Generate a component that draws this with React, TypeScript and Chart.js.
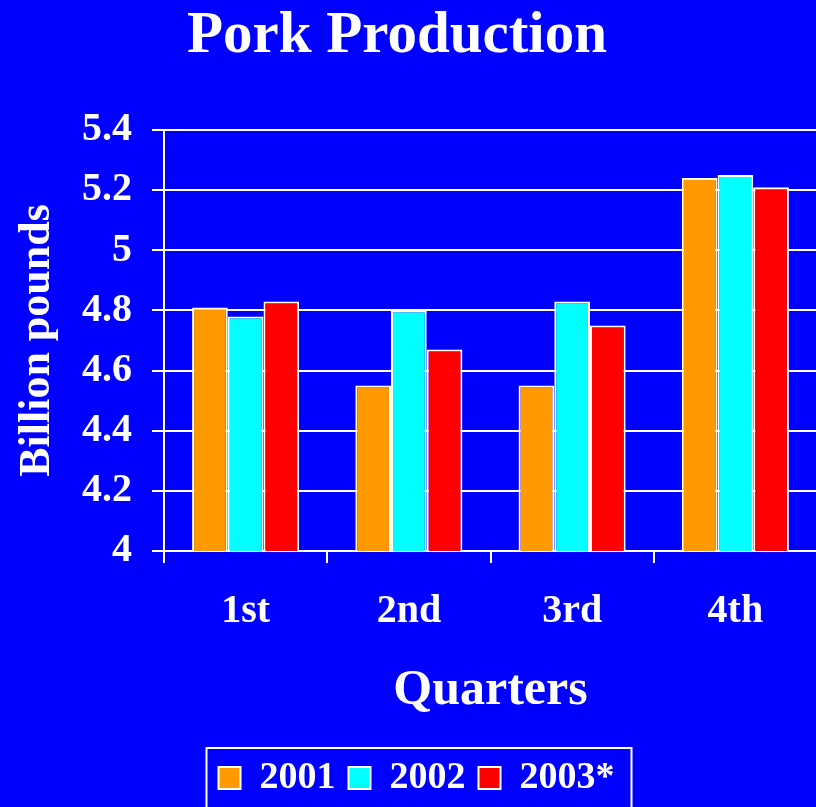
import React, { useEffect, useRef } from 'react';
import { Chart, registerables } from 'chart.js';

Chart.register(...registerables);

// ---- data ----
const categories = ['1st', '2nd', '3rd', '4th'];
const seriesNames = ['2001', '2002', '2003*'];
const values2001 = [4.81, 4.55, 4.55, 5.24];
const values2002 = [4.78, 4.8, 4.83, 5.25];
const values2003 = [4.83, 4.67, 4.75, 5.21];
const seriesColors = ['#FF9900', '#00FFFF', '#FF0000'];
const yMin = 4;
const yMax = 5.4;
const yStep = 0.2;
const chartTitle = 'Pork Production';
const xTitle = 'Quarters';
const yTitle = 'Billion pounds';

const BG = '#0000FF';
const FONT = '"Liberation Serif", "Times New Roman", Times, serif';

const bgPlugin = {
  id: 'bgFill',
  beforeDraw(chart: any) {
    const c = chart.ctx;
    c.save();
    c.fillStyle = BG;
    c.fillRect(0, 0, chart.width, chart.height);
    c.restore();
  },
};

const titlePlugin = {
  id: 'manualTitle',
  afterDraw(chart: any) {
    const c = chart.ctx;
    c.save();
    c.font = `bold 59px ${FONT}`;
    c.fillStyle = '#FFFFFF';
    c.textAlign = 'center';
    c.textBaseline = 'alphabetic';
    c.fillText(chartTitle, 397, 52);
    c.restore();
  },
};

const legendBorderPlugin = {
  id: 'legendBorder',
  afterDraw(chart: any) {
    const hb = chart.legend && chart.legend.legendHitBoxes;
    if (!hb || !hb.length) return;
    const first = hb[0];
    const last = hb[hb.length - 1];
    const cy = first.top + first.height / 2;
    const left = first.left - 12;
    const right = last.left + last.width + 17;
    const top = cy - 30;
    const c = chart.ctx;
    c.save();
    c.strokeStyle = '#FFFFFF';
    c.lineWidth = 2;
    c.strokeRect(left, top, right - left, chart.height + 20 - top);
    c.restore();
  },
};

export default function App() {
  const ref = useRef<HTMLCanvasElement | null>(null);

  useEffect(() => {
    if (!ref.current) return;
    const tickFont = { family: FONT, size: 40, weight: 'bold' as const };
    const chart = new Chart(ref.current, {
      type: 'bar',
      data: {
        labels: categories,
        datasets: [values2001, values2002, values2003].map((vals, i) => ({
          label: seriesNames[i],
          data: vals,
          backgroundColor: seriesColors[i],
          borderColor: '#FFFFFF',
          borderWidth: 2,
          categoryPercentage: 0.656,
          barPercentage: 1.0,
        })),
      },
      options: {
        responsive: false,
        animation: false,
        devicePixelRatio: 1,
        layout: { padding: { left: 16, right: 13, top: 130, bottom: 0 } },
        plugins: {
          title: { display: false },
          tooltip: { enabled: false },
          legend: {
            display: true,
            position: 'bottom',
            labels: {
              color: '#FFFFFF',
              font: { family: FONT, size: 38, weight: 'bold' },
              boxWidth: 22,
              boxHeight: 22,
              padding: 13,
            },
          },
        },
        scales: {
          x: {
            grid: {
              display: true,
              drawOnChartArea: false,
              color: '#FFFFFF',
              lineWidth: 2,
              tickLength: 12,
              offset: true,
            },
            border: { color: '#FFFFFF', width: 2 },
            ticks: { color: '#FFFFFF', font: tickFont, padding: 25 },
            title: {
              display: true,
              text: xTitle,
              color: '#FFFFFF',
              font: { family: FONT, size: 50, weight: 'bold', lineHeight: 1.2 },
              padding: { top: 0, bottom: 25 },
            },
          },
          y: {
            min: yMin,
            max: yMax,
            grid: { color: '#FFFFFF', lineWidth: 2, tickLength: 12 },
            border: { color: '#FFFFFF', width: 2 },
            ticks: {
              stepSize: yStep,
              color: '#FFFFFF',
              font: tickFont,
              padding: 20,
              callback: (v: any) => String(Number(Number(v).toFixed(1))),
            },
            title: {
              display: true,
              text: yTitle,
              color: '#FFFFFF',
              font: { family: FONT, size: 44, weight: 'bold', lineHeight: 1 },
              padding: { top: 0, bottom: 2 },
            },
          },
        },
      },
      plugins: [bgPlugin, titlePlugin, legendBorderPlugin],
    });
    return () => chart.destroy();
  }, []);

  return (
    <div
      style={{
        position: 'fixed',
        left: 0,
        top: 0,
        width: 816,
        height: 807,
        overflow: 'hidden',
        background: BG,
      }}
    >
      <canvas ref={ref} width={830} height={807} style={{ display: 'block', width: 830, height: 807 }} />
    </div>
  );
}
